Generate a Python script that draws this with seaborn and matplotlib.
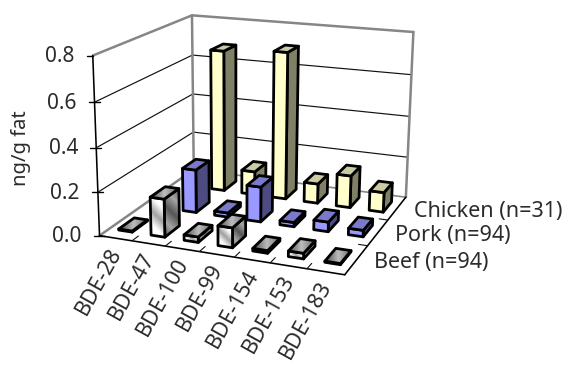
import numpy as np
import pandas as pd
import matplotlib
matplotlib.use("Agg")
import matplotlib.pyplot as plt
from matplotlib.colors import LinearSegmentedColormap
from matplotlib.patches import Polygon
import seaborn as sns

congeners = ["BDE-28", "BDE-47", "BDE-100", "BDE-99", "BDE-154", "BDE-153", "BDE-183"]
series_names = ["Beef (n=94)", "Pork (n=94)", "Chicken (n=31)"]
beef = [0.005, 0.175, 0.025, 0.09, 0.012, 0.025, 0.005]
pork = [0.0, 0.205, 0.02, 0.165, 0.02, 0.045, 0.03]
chicken = [0.0, 0.69, 0.115, 0.71, 0.095, 0.155, 0.095]
y_ticks = [0.0, 0.2, 0.4, 0.6, 0.8]

data = pd.DataFrame({"Beef": beef, "Pork": pork, "Chicken": chicken}, index=congeners)

sns.set_theme(style="white")
plt.rcParams["font.family"] = ["Noto Sans", "DejaVu Sans"]

W, H = 565, 369
fig = plt.figure(figsize=(W / 100, H / 100), dpi=100)
ax = fig.add_axes([0, 0, 1, 1])
ax.set_axis_off()

# Perspective camera for the chart box, solved from where its corners sit on the canvas.
NX, NY, ZMAX = len(congeners), len(series_names), y_ticks[-1]
box_world = np.array([
    [0, 0, 0], [NX, 0, 0], [NX, NY, 0], [0, NY, 0],
    [0, 0, ZMAX], [NX, 0, ZMAX], [NX, NY, ZMAX], [0, NY, ZMAX],
], float)
box_canvas = np.array([
    [100, 235], [345, 275], [406, 197], [193, 170],
    [92, 56], [345, 102], [413, 32], [193, 15],
], float)
# The front-right top corner is never drawn; leave it out of the fit.
fit_idx = [0, 1, 2, 3, 4, 6, 7]


def solve_camera(world, canvas):
    rows, rhs = [], []
    for (x, y, z), (u, v) in zip(world, canvas):
        rows.append([x, y, z, 1, 0, 0, 0, 0, -u * x, -u * y, -u * z])
        rows.append([0, 0, 0, 0, x, y, z, 1, -v * x, -v * y, -v * z])
        rhs += [u, v]
    p = np.linalg.lstsq(np.array(rows), np.array(rhs), rcond=None)[0]
    return np.append(p, 1).reshape(3, 4)


CAM = solve_camera(box_world[fit_idx], box_canvas[fit_idx])


def pt(x, y, z=0.0):
    q = CAM @ np.array([x, y, z, 1.0])
    return q[:2] / q[2]


def seg(a, b, **kw):
    p, q = pt(*a), pt(*b)
    ax.plot([p[0], q[0]], [p[1], q[1]], solid_capstyle="round", **kw)


GRAY = "#868686"
INK = "#2b2b2b"
GRID = dict(color="#111111", lw=0.85, zorder=2)
WALL = dict(color=GRAY, lw=1.8, zorder=3)
AXIS = dict(color="#000000", lw=1.15, zorder=3)

# Walls, floor and gridlines
for z in y_ticks[1:-1]:
    seg((0, 0, z), (0, NY, z), **GRID)
    seg((0, NY, z), (NX, NY, z), **GRID)
seg((0, 0, ZMAX), (0, NY, ZMAX), **WALL)
seg((0, NY, ZMAX), (NX, NY, ZMAX), **WALL)
seg((0, NY, 0), (0, NY, ZMAX), **WALL)
seg((NX, NY, 0), (NX, NY, ZMAX), **WALL)
seg((0, 0, 0), (0, NY, 0), **WALL)
seg((0, NY, 0), (NX, NY, 0), color=GRAY, lw=1.2, zorder=3)
seg((0, 0, 0), (0, 0, ZMAX), **AXIS)
seg((0, 0, 0), (NX, 0, 0), **AXIS)
seg((NX, 0, 0), (NX, NY, 0), **AXIS)

# Axis ticks and labels
for z in y_ticks:
    p = pt(0, 0, z)
    ax.plot([p[0] - 6, p[0] + (5 if z < ZMAX else 0)], [p[1], p[1]], color="#000000", lw=1.0, zorder=3)
    ax.text(p[0] - 18, p[1] + 1, f"{z:.1f}", ha="right", va="center", fontsize=15, color=INK)
for i in range(1, NX):
    seg((i, 0, 0), (i, 0.18, 0), color="#111111", lw=0.8, zorder=3)
for j in range(1, NY):
    seg((NX, j, 0), (NX - 0.25, j, 0), color="#111111", lw=0.8, zorder=3)
for i, name in enumerate(congeners):
    p = pt(i + 0.5, 0, 0)
    ax.text(p[0] + 1, p[1] + 11, name, rotation=61, rotation_mode="anchor", ha="right", va="center",
            fontsize=15.5, color=INK)
for j, name in enumerate(series_names):
    p = pt(NX, j + 0.5, 0)
    ax.text(p[0] + 17, p[1] + 3, name, ha="left", va="center", fontsize=15.5, color=INK)
ax.text(21, 148, "ng/g fat", rotation=90, ha="center", va="center", fontsize=14.5, color=INK)

# Bars
EDGE = dict(edgecolor="black", linewidth=2.0, joinstyle="round")
BAR_W, BAR_D = 0.42, 0.45
solid_faces = {
    "Pork": {"front": "#9999FF", "side": "#4C4C80", "top": "#7A7ACC"},
    "Chicken": {"front": "#FFFFCC", "side": "#808066", "top": "#CCCCA3"},
}
beef_maps = {
    "front": LinearSegmentedColormap.from_list("bf", ["#ffffff", "#ffffff", "#a0a0a0", "#ffffff", "#ffffff"]),
    "side": LinearSegmentedColormap.from_list("bs", ["#555555", "#a6a6a6", "#555555", "#a6a6a6", "#555555"]),
    "top": LinearSegmentedColormap.from_list("bt", ["#4d4d4d", "#bdbdbd", "#6a6a6a"]),
}
order = [0]


def next_z():
    order[0] += 1
    return 10 + order[0] * 0.01


def face(corners, kind, series):
    zo = next_z()
    if series == "Beef":
        xs, ys = corners[:, 0], corners[:, 1]
        x0, x1, y0, y1 = xs.min(), xs.max(), ys.min(), ys.max()
        gx, gy = np.meshgrid(np.linspace(x0, x1, 40), np.linspace(y0, y1, 40))
        if kind == "top":
            grad = (gx - x0) / max(x1 - x0, 1)
        else:
            grad = ((gx - x0) + (y1 - gy)) / max((x1 - x0) + (y1 - y0), 1)
        im = ax.imshow(grad, cmap=beef_maps[kind], vmin=0, vmax=1, extent=(x0, x1, y1, y0),
                       aspect="auto", zorder=zo, interpolation="bilinear")
        patch = Polygon(corners, closed=True, facecolor="none", zorder=zo + 0.001, **EDGE)
        ax.add_patch(patch)
        im.set_clip_path(patch)
    else:
        ax.add_patch(Polygon(corners, closed=True, facecolor=solid_faces[series][kind], zorder=zo, **EDGE))


def bar(i, j, value, series):
    x0, x1 = i + 0.5 - BAR_W / 2, i + 0.5 + BAR_W / 2
    y0, y1 = j + 0.5 - BAR_D / 2, j + 0.5 + BAR_D / 2
    face(np.array([pt(x1, y0, 0), pt(x1, y1, 0), pt(x1, y1, value), pt(x1, y0, value)]), "side", series)
    face(np.array([pt(x0, y0, 0), pt(x1, y0, 0), pt(x1, y0, value), pt(x0, y0, value)]), "front", series)
    face(np.array([pt(x0, y0, value), pt(x1, y0, value), pt(x1, y1, value), pt(x0, y1, value)]), "top", series)


for j, series in reversed(list(enumerate(data.columns))):
    for i, value in enumerate(data[series]):
        if value > 0:
            bar(i, j, value, series)

ax.set_xlim(0, W)
ax.set_ylim(H, 0)
fig.savefig("out.png", dpi=100, facecolor="white")
